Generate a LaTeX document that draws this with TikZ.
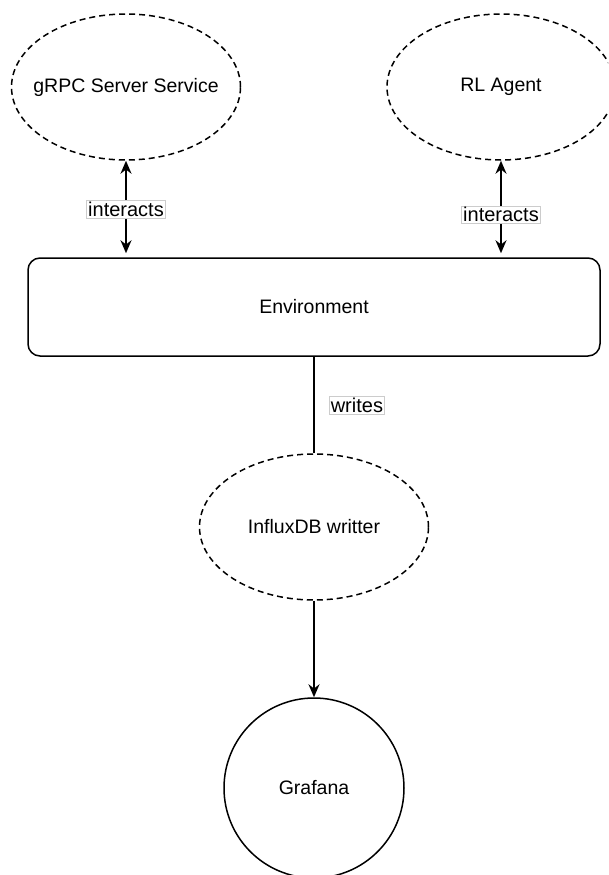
\documentclass[tikz,border=0pt]{standalone}
\usepackage{fontspec}
\setmainfont{Liberation Sans}
\usepackage{tikz}
\usetikzlibrary{shapes.geometric,arrows.meta}

\begin{document}
\begin{tikzpicture}[x=1pt,y=-1pt,
    every node/.style={font=\fontsize{19.5}{22}\selectfont},
    dashnode/.style={ellipse,draw,dashed,line width=1.5pt,dash pattern=on 6pt off 4pt,
        minimum width=229pt,minimum height=146pt,inner sep=0pt},
    lbl/.style={draw=black!20,fill=white,inner sep=1.5pt,line width=0.6pt,font=\fontsize{20}{22}\selectfont},
    conn/.style={line width=1.6pt},
    >={Stealth[length=13pt,width=11pt]}]
    \useasboundingbox (0,0) rectangle (608,875);
    \clip (0,0) rectangle (608,875);
    % services on top
    \node [dashnode,label={center:gRPC Server Service}] (grpc) at (126,87) {};
    \node [dashnode,minimum width=228pt,label={center:RL Agent}] (agent) at (501,87) {};
    \node [draw,rounded corners=12pt,line width=1.5pt,minimum width=572pt,minimum height=98pt] (env) at (314,307) {Environment};
    \node [dashnode,label={center:InfluxDB writter}] (influx) at (314,527) {};
    \node [circle,draw,line width=1.5pt,minimum size=180pt] (grafana) at (314,788) {Grafana};
    % connectors
    \draw [conn,<->,shorten >=4pt] (grpc.south) -- (grpc.south |- env.north)
        node [lbl,midway] {interacts};
    \draw [conn,<->,shorten >=4pt] (agent.south) -- (agent.south |- env.north)
        node [lbl,pos=0.56] {interacts};
    \draw [conn] (env.south) -- (influx.north)
        node [lbl,midway,right=15pt] {writes};
    \draw [conn,->] (influx.south) -- (grafana.north);
\end{tikzpicture}
\end{document}
